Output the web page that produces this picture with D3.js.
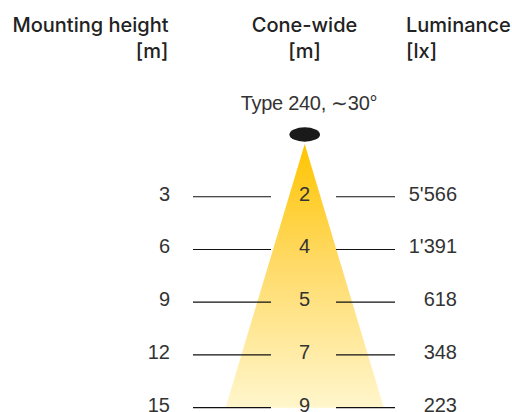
<!DOCTYPE html>
<html><head><meta charset="utf-8">
<script src="https://cdn.jsdelivr.net/npm/d3@7"></script>
<style>
html,body{margin:0;padding:0;background:#fff;}
svg{display:block;font-family:"Liberation Sans",Arial,Helvetica,sans-serif;}
</style></head>
<body>
<script>
const heights = [3, 6, 9, 12, 15];
const coneWidths = [2, 4, 5, 7, 9];
const luxLabels = ["5'566", "1'391", "618", "348", "223"];
const headers = ["Mounting height", "Cone-wide", "Luminance"];
const units = ["[m]", "[m]", "[lx]"];
const title = "Type 240, ∼30°";

const W = 512, H = 412;
const svg = d3.select("body").append("svg").attr("width", W).attr("height", H);

const y = d3.scaleLinear().domain([0, 15]).range([144, 407.7]);
const pxPerM = (y(15) - y(0)) / 15;
const cx = 304.7;
const x = d3.scaleLinear().domain([0, 1]).range([cx, cx + pxPerM]);

const defs = svg.append("defs");
const g = defs.append("linearGradient").attr("id", "cone").attr("x1", 0).attr("y1", 0).attr("x2", 0).attr("y2", 1);
g.append("stop").attr("offset", "0%").attr("stop-color", "#ffc400");
g.append("stop").attr("offset", "45%").attr("stop-color", "#ffda66");
g.append("stop").attr("offset", "100%").attr("stop-color", "#fff6cc");

const bottomH = d3.max(heights);
const bottomW = coneWidths[heights.indexOf(bottomH)];
svg.append("path")
  .attr("d", d3.line()([[x(0), y(0)], [x(bottomW / 2), y(bottomH)], [x(-bottomW / 2), y(bottomH)]]) + "Z")
  .attr("fill", "url(#cone)");

svg.append("ellipse").attr("cx", cx).attr("cy", 134.5).attr("rx", 15.3).attr("ry", 7.2).attr("fill", "#1a1a1a");

svg.append("text").attr("x", 309).attr("y", 110).attr("text-anchor", "middle")
  .attr("font-size", 20).attr("fill", "#333").attr("letter-spacing", -0.3).text(title);

const hx = [168.5, 304.5, 406];
const anchors = ["end", "middle", "start"];
headers.forEach((h, i) => {
  svg.append("text").attr("x", hx[i]).attr("y", 31.7).attr("text-anchor", anchors[i])
    .attr("font-family", "Inter, 'Liberation Sans', sans-serif")
    .attr("font-size", 20).attr("font-weight", 500).attr("fill", "#222").text(h);
  svg.append("text").attr("x", hx[i]).attr("y", 57.5).attr("text-anchor", anchors[i])
    .attr("font-family", "Inter, 'Liberation Sans', sans-serif")
    .attr("font-size", 20).attr("font-weight", 500).attr("fill", "#222").text(units[i]);
});

const rows = svg.append("g").selectAll("g").data(heights).join("g");
rows.append("line").attr("x1", 193).attr("x2", 271)
  .attr("y1", d => y(d)).attr("y2", d => y(d)).attr("stroke", "#111").attr("stroke-width", 1.2);
rows.append("line").attr("x1", 336).attr("x2", 395)
  .attr("y1", d => y(d)).attr("y2", d => y(d)).attr("stroke", "#111").attr("stroke-width", 1.2);
rows.append("text").attr("x", 170).attr("y", d => y(d) + 3.8).attr("text-anchor", "end")
  .attr("font-size", 20).attr("fill", "#333").text(d => d);
rows.append("text").attr("x", 304.5).attr("y", d => y(d) + 3.8).attr("text-anchor", "middle")
  .attr("font-size", 20).attr("fill", "#333").text((d, i) => coneWidths[i]);
rows.append("text").attr("x", 457).attr("y", d => y(d) + 3.8).attr("text-anchor", "end")
  .attr("font-size", 20).attr("fill", "#333").text((d, i) => luxLabels[i]);
</script>
</body></html>
